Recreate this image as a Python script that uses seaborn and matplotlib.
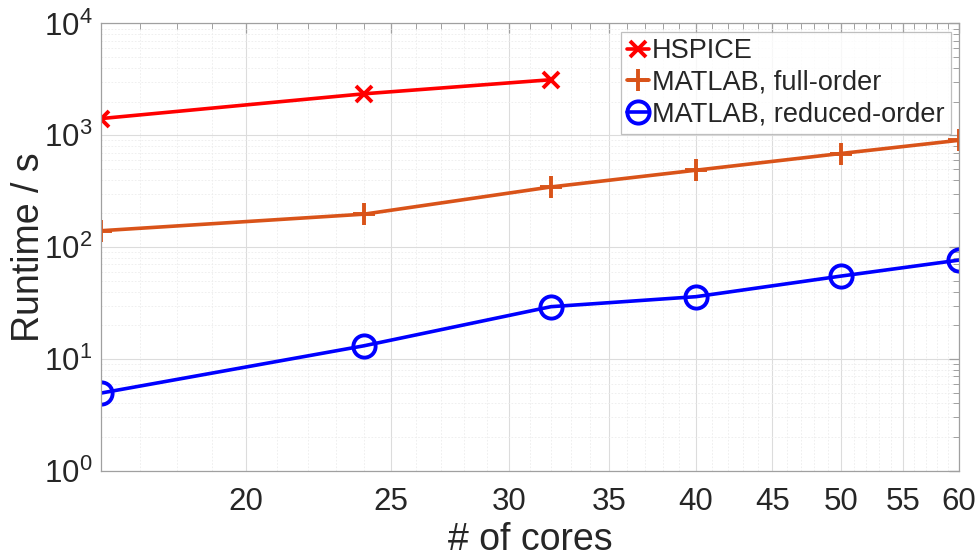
import numpy as np
import pandas as pd
import matplotlib
matplotlib.use('Agg')
import matplotlib.pyplot as plt
import matplotlib.ticker as mticker
import seaborn as sns

cores_hspice = [16, 24, 32]
runtime_hspice = [1410, 2350, 3140]

cores_full = [16, 24, 32, 40, 50, 60]
runtime_full = [140, 197, 345, 487, 687, 902]

cores_reduced = [16, 24, 32, 40, 50, 60]
runtime_reduced = [4.94, 13.1, 29.3, 36, 55, 76.5]

xtick_vals = [20, 25, 30, 35, 40, 45, 50, 55, 60]

sns.set_style('white')
plt.rcParams['font.family'] = ['Liberation Sans', 'DejaVu Sans']
plt.rcParams['mathtext.fontset'] = 'custom'
plt.rcParams['mathtext.rm'] = 'Liberation Sans'
plt.rcParams['mathtext.it'] = 'Liberation Sans'
plt.rcParams['mathtext.default'] = 'regular'

fig = plt.figure(figsize=(9.8, 5.59), dpi=100)
ax = fig.add_axes([0.1028, 0.158, 0.876, 0.800])

df_h = pd.DataFrame({'cores': cores_hspice, 'runtime': runtime_hspice})
df_f = pd.DataFrame({'cores': cores_full, 'runtime': runtime_full})
df_r = pd.DataFrame({'cores': cores_reduced, 'runtime': runtime_reduced})

sns.lineplot(data=df_h, x='cores', y='runtime', ax=ax, color='#ff0000', linewidth=2.6,
             marker='x', markersize=11, markeredgewidth=2.8, markeredgecolor='#ff0000',
             label='HSPICE')
sns.lineplot(data=df_f, x='cores', y='runtime', ax=ax, color='#d95319', linewidth=2.6,
             marker='+', markersize=16, markeredgewidth=2.8, markeredgecolor='#d95319',
             label='MATLAB, full-order')
sns.lineplot(data=df_r, x='cores', y='runtime', ax=ax, color='#0000ff', linewidth=2.6,
             marker='o', markersize=16, markeredgewidth=2.8, markerfacecolor='none',
             markeredgecolor='#0000ff', label='MATLAB, reduced-order')

ax.set_xscale('log')
ax.set_yscale('log')
ax.set_xlim(16, 60)
ax.set_ylim(1, 1e4)

ax.xaxis.set_major_locator(mticker.FixedLocator(xtick_vals))
ax.xaxis.set_major_formatter(mticker.FixedFormatter([str(v) for v in xtick_vals]))
ax.xaxis.set_minor_locator(mticker.FixedLocator([v for v in range(17, 60) if v not in xtick_vals]))
ax.xaxis.set_minor_formatter(mticker.NullFormatter())
ax.yaxis.set_major_locator(mticker.LogLocator(base=10, numticks=10))
ax.yaxis.set_major_formatter(mticker.LogFormatterMathtext())
ax.yaxis.set_minor_locator(mticker.LogLocator(base=10, subs=np.arange(2, 10), numticks=20))
ax.yaxis.set_minor_formatter(mticker.NullFormatter())

ax.grid(True, which='major', color='#dcdcdc', lw=0.8)
ax.grid(True, which='minor', color='#ececec', lw=0.6, ls=(0, (2, 2)))
ax.set_axisbelow(True)

for s in ax.spines.values():
    s.set_color('#a0a0a0')
    s.set_linewidth(0.9)
ax.tick_params(which='both', direction='in', top=True, right=True, colors='#a0a0a0',
               labelcolor='#262626', labelsize=22.5)
ax.tick_params(axis='x', which='major', pad=12)
ax.tick_params(axis='y', which='major', pad=6)
ax.tick_params(which='major', length=7, width=0.9)
ax.tick_params(which='minor', length=4, width=0.7)

ax.set_xlabel('# of cores', fontsize=27, color='#262626', labelpad=3)
ax.set_ylabel('Runtime / s', fontsize=27, color='#262626', labelpad=-2)

leg = ax.legend(loc='upper right', fontsize=19.5, handlelength=0.8, handletextpad=0.1,
                borderpad=0.25, labelspacing=0.2, frameon=True, fancybox=False,
                borderaxespad=0.3)
leg.get_frame().set_edgecolor('#b0b0b0')
leg.get_frame().set_linewidth(0.9)

fig.savefig('out.png', dpi=100)
